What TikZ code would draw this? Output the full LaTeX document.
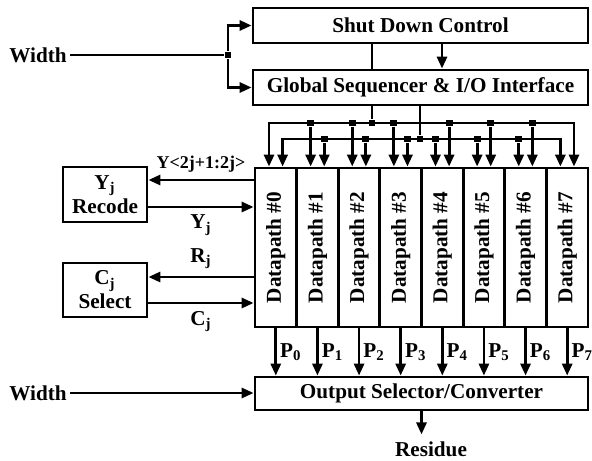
\documentclass[tikz,border=0pt]{standalone}
\usepackage{fontspec}
\setmainfont{Liberation Serif}
\usetikzlibrary{arrows.meta}

\tikzset{
	blk/.style={draw=black, line width=1.4pt, inner sep=1pt, align=center},
	wire/.style={line width=1.4pt},
	arr/.style={wire, ->},
	junc/.style={fill=black, shape=rectangle, minimum size=3.4pt, inner sep=0pt},
	small/.style={font=\bfseries\fontsize{9}{10}\selectfont},
}

\begin{document}
\begin{tikzpicture}[x=0.5pt, y=-0.5pt, >={Triangle[length=6pt, width=5pt]},
		every node/.style={font=\bfseries\fontsize{10.6}{12}\selectfont}]
	\useasboundingbox (0,0) rectangle (592,460);
	% blocks
	\node [blk, minimum width=167.5pt, minimum height=17.5pt] (sdc) at (420.5, 25.5) {Shut Down Control};
	\node [blk, minimum width=167.5pt, minimum height=17.5pt] (gsq) at (420.5, 87.5) {Global Sequencer \& I/O Interface};
	\node [blk, minimum width=166.5pt, minimum height=16.5pt] (osc) at (421.5, 393.5) {Output Selector/Converter};
	\node [blk, minimum width=42pt, minimum height=27.5pt] (yrc) at (105, 194.5) {Y\textsubscript{j}\\Recode};
	\node [blk, minimum width=42pt, minimum height=27pt] (csl) at (105, 290) {C\textsubscript{j}\\Select};
	\foreach \i in {0,...,7}
		\node [blk, minimum width=20.81pt, minimum height=79.5pt] (dp\i) at ({275.8+41.625*\i}, 247.5) {\rotatebox{90}{Datapath \#\i}};

	% width input and control
	\node [inner sep=1.5pt] (w1) at (38, 55) {Width};
	\node [junc] (j0) at (228, 55) {};
	\draw [wire] (w1) -- (j0);
	\draw [arr] (j0) |- (sdc);
	\draw [arr] (j0) |- (gsq);
	\node [junc] (ju) at (372, 123) {};
	\node [junc] (jl) at (420, 139) {};
	\draw [wire] (sdc.south -| ju) -- (gsq.north -| ju);
	\draw [arr] ([xshift=10.75pt]sdc.south) -- ([xshift=10.75pt]gsq.north);
	\draw [wire] (gsq.south -| ju) -- (ju);
	\draw [wire] (gsq.south -| jl) -- (jl);

	% the two buses
	\coordinate (ub) at (0, 123);
	\coordinate (lb) at (0, 139);
	\foreach \i in {0,...,7} {
		\coordinate (tl\i) at ([xshift=-3.4pt]dp\i.north);
		\coordinate (tr\i) at ([xshift=3.4pt]dp\i.north);
	}
	\draw [wire, <->] (tl0) -- (tl0 |- ub) -- (tr7 |- ub) -- (tr7);
	\draw [wire, <->] (tr0) -- (tr0 |- lb) -- (tl7 |- lb) -- (tl7);
	\foreach \i in {1,2,3} {
		\node [junc] (u\i) at (tl\i |- ub) {};
		\node [junc] (l\i) at (tr\i |- lb) {};
		\draw [arr] (u\i) -- (tl\i);
		\draw [arr] (l\i) -- (tr\i);
	}
	\foreach \i in {4,5,6} {
		\node [junc] (u\i) at (tr\i |- ub) {};
		\node [junc] (l\i) at (tl\i |- lb) {};
		\draw [arr] (u\i) -- (tr\i);
		\draw [arr] (l\i) -- (tl\i);
	}

	% recode and select
	\coordinate (ya) at ([yshift=7.25pt]yrc.east);
	\coordinate (yb) at ([yshift=-6.25pt]yrc.east);
	\draw [arr] (dp0.west |- ya) -- node [above, small] {Y<2j+1:2j>} (ya);
	\draw [arr] (yb) -- node [below] {Y\textsubscript{j}} (dp0.west |- yb);
	\coordinate (ra) at ([yshift=6.5pt]csl.east);
	\coordinate (rb) at ([yshift=-6.5pt]csl.east);
	\draw [arr] (dp0.west |- ra) -- node [above] {R\textsubscript{j}} (ra);
	\draw [arr] (rb) -- node [below] {C\textsubscript{j}} (dp0.west |- rb);

	% outputs
	\foreach \i in {0,...,7}
		\draw [arr] (dp\i.south) -- node [right, inner sep=1.5pt] {P\textsubscript{\i}} (dp\i.south |- osc.north);
	\node [inner sep=1.5pt] (w2) at (38, 393) {Width};
	\draw [arr] (w2) -- (w2 -| osc.west);
	\node (res) at (431, 449) {Residue};
	\draw [arr] (osc.south) -- (osc.south |- res.north);
\end{tikzpicture}
\end{document}
